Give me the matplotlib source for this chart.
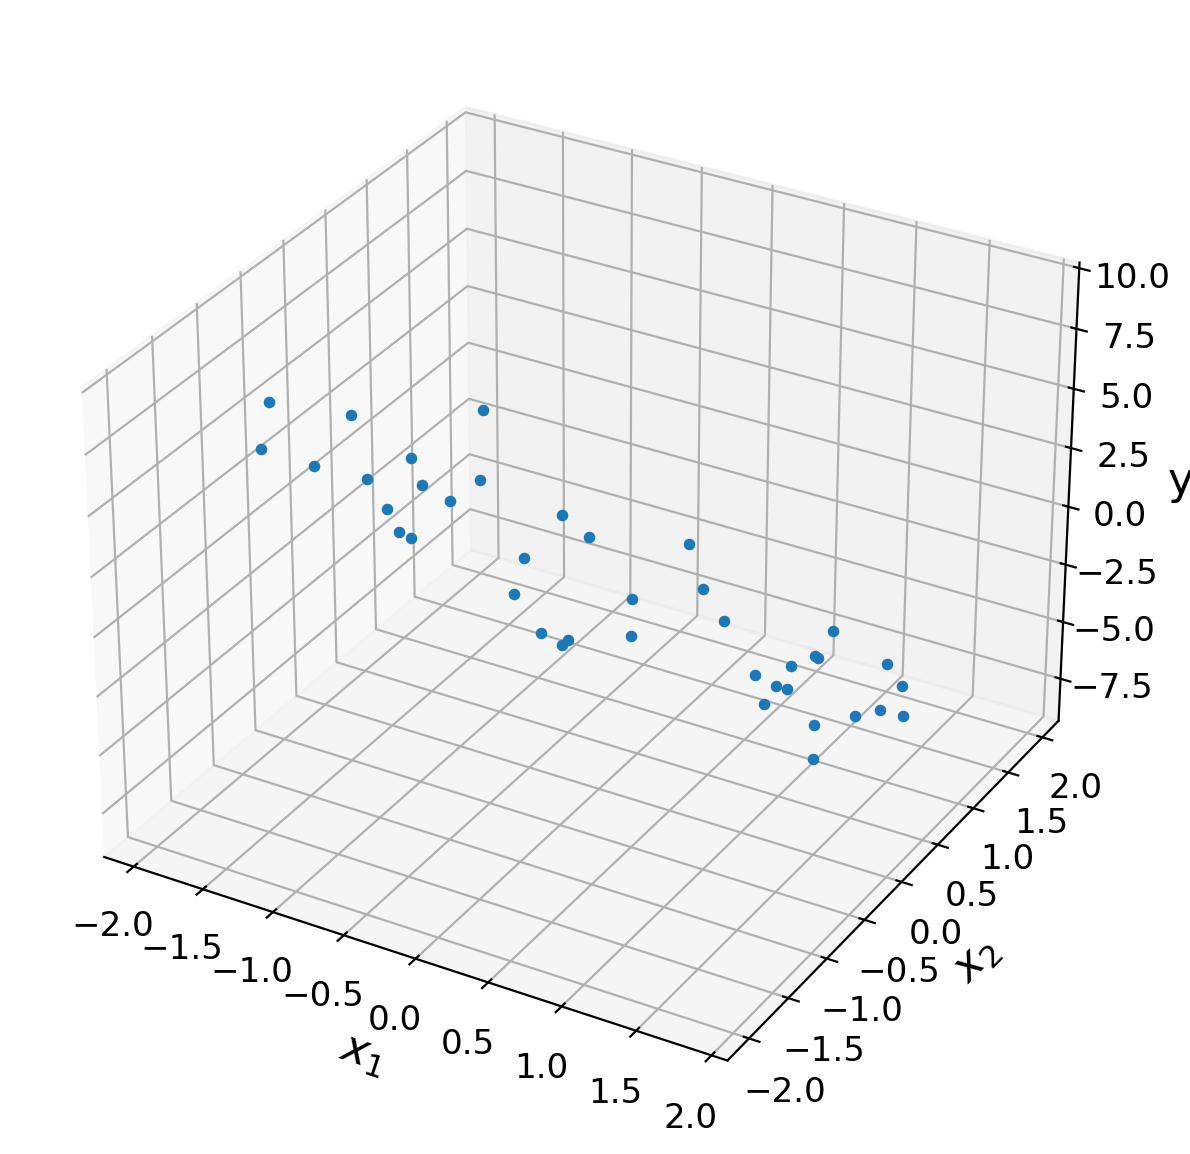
import numpy as np
import matplotlib
matplotlib.use('Agg')
import matplotlib.pyplot as plt

x1_values = [-1.871,-1.928,-1.513,-1.988,-1.703,-1.438,-1.445,-1.224,-1.059,-1.025,-1.184,-0.998,-0.920,-0.552,-0.320,-0.416,0.079,-0.231,0.398,0.205,0.661,0.094,0.226,0.235,0.419,1.117,1.190,1.213,1.078,1.158,1.502,1.215,1.271,1.678,1.271,1.666,1.726,1.843,1.564,1.743]
x2_values = [-0.764,0.280,1.212,-0.688,-0.535,0.183,-0.336,-0.048,0.384,-0.047,-0.538,-0.711,-0.699,0.521,0.450,-0.199,1.021,-0.648,0.608,0.043,0.390,-0.893,-0.798,-0.889,-0.360,0.978,0.589,0.584,0.004,0.328,0.961,0.018,0.056,0.817,-0.247,0.196,0.417,0.498,-0.155,-0.516]
y_values = [6.10,2.61,0.96,3.74,3.08,1.86,2.41,1.72,1.00,1.38,2.16,2.01,1.86,-0.02,-0.36,0.45,-1.61,0.57,-1.79,-0.90,-2.05,0.24,-0.10,-0.02,-0.89,-3.41,-3.19,-3.22,-2.44,-2.89,-4.09,-2.70,-2.84,-4.28,-2.55,-3.69,-4.00,-4.29,-3.18,-3.16]
x_ticks = [-2.0,-1.5,-1.0,-0.5,0.0,0.5,1.0,1.5,2.0]
y_ticks = [-7.5,-5.0,-2.5,0.0,2.5,5.0,7.5,10.0]

fig = plt.figure(figsize=(5.95,5.77),dpi=200)
ax = fig.add_axes([0.01714,0.01924,0.9324,0.9636],projection='3d')
ax.set_xlim(-2.215,2.105); ax.set_ylim(-2.27,2.24); ax.set_zlim(-9.37,10.23)
ax.set_xticks(x_ticks); ax.set_yticks(x_ticks); ax.set_zticks(y_ticks)
ax.tick_params(labelsize=12.3)
ax.set_xlabel('$x_1$',fontsize=16); ax.set_ylabel('$x_2$',fontsize=16); ax.set_zlabel('y',fontsize=16)
ax.scatter(x1_values,x2_values,y_values,s=10,depthshade=False)
fig.savefig('out.png')
